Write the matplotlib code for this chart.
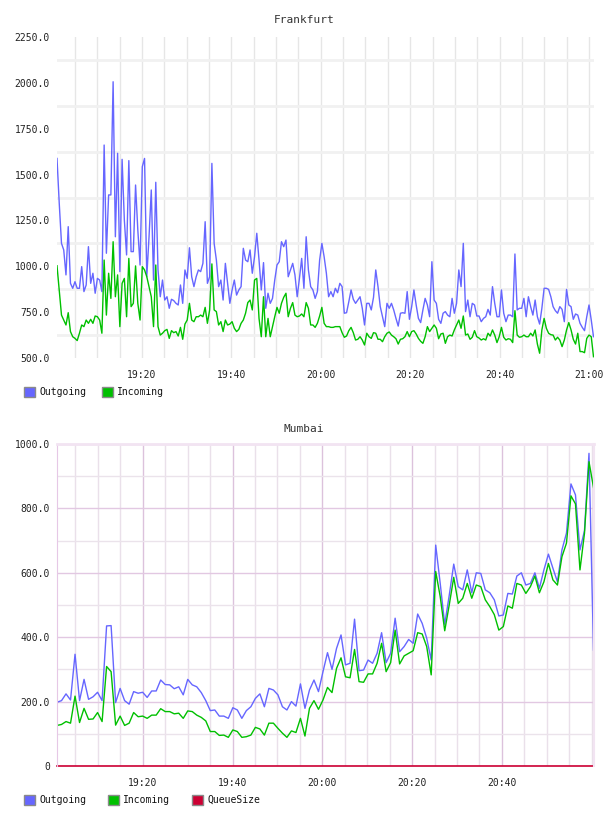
import numpy as np
import pandas as pd
import matplotlib
matplotlib.use('Agg')
import matplotlib.pyplot as plt
import matplotlib.dates as mdates
from matplotlib.patches import Rectangle

# ---- Frankfurt (30 s samples) ----
fra_times = pd.date_range('2024-01-01 19:01:00', '2024-01-01 21:01:00', periods=240)
fra_out = [1588, 1343, 1125, 1089, 953, 1216, 907, 880, 916, 880,
           880, 998, 862, 898, 1107, 907, 962, 853, 934, 925,
           862, 1661, 1071, 1389, 1389, 2006, 1161, 1616, 971, 1583,
           1252, 1062, 1576, 1080, 1080, 1443, 1198, 1007, 1543, 1588,
           943, 1161, 1416, 925, 1458, 980, 834, 925, 816, 834,
           771, 820, 813, 798, 789, 898, 798, 980, 934, 1101,
           943, 889, 943, 980, 971, 1016, 1243, 907, 943, 1561,
           1125, 1034, 889, 925, 816, 1016, 907, 798, 871, 925,
           843, 871, 889, 1098, 1034, 1025, 1089, 962, 1052, 1180,
           1034, 871, 1020, 771, 853, 798, 825, 925, 1007, 1025,
           1134, 1107, 1143, 943, 980, 1016, 953, 834, 934, 1043,
           880, 1161, 980, 889, 871, 825, 862, 1034, 1125, 1052,
           962, 834, 862, 834, 880, 856, 907, 889, 744, 747,
           807, 871, 820, 798, 816, 834, 771, 680, 798, 798,
           762, 831, 980, 889, 780, 725, 671, 798, 771, 798,
           762, 716, 674, 744, 747, 744, 862, 711, 780, 871,
           789, 716, 693, 762, 825, 789, 725, 1025, 816, 798,
           711, 689, 744, 753, 734, 725, 825, 744, 798, 980,
           889, 1125, 753, 816, 725, 798, 789, 729, 729, 698,
           716, 725, 765, 734, 889, 798, 725, 725, 871, 744,
           698, 734, 734, 725, 1067, 762, 771, 771, 825, 725,
           834, 780, 734, 816, 725, 685, 771, 880, 880, 874,
           834, 780, 758, 744, 780, 765, 698, 874, 789, 780,
           711, 740, 734, 689, 667, 649, 725, 789, 707, 616]
fra_in = [1003, 871, 734, 707, 680, 747, 644, 616, 607, 595,
          635, 680, 671, 707, 689, 711, 689, 729, 725, 707,
          635, 1034, 734, 962, 825, 1134, 834, 953, 671, 907,
          934, 725, 1043, 780, 798, 1002, 798, 707, 998, 980,
          943, 889, 834, 671, 1007, 671, 625, 635, 649, 656,
          607, 649, 638, 644, 620, 667, 602, 685, 707, 798,
          707, 698, 725, 725, 734, 725, 776, 689, 762, 1013,
          762, 753, 680, 698, 644, 707, 680, 685, 698, 662,
          644, 656, 689, 707, 744, 802, 816, 762, 925, 934,
          716, 616, 834, 616, 716, 616, 671, 725, 776, 744,
          798, 831, 853, 725, 771, 802, 734, 725, 729, 740,
          725, 802, 771, 680, 680, 667, 689, 729, 776, 689,
          671, 671, 667, 667, 671, 671, 671, 638, 613, 620,
          649, 667, 638, 598, 602, 616, 598, 571, 635, 616,
          607, 638, 635, 602, 602, 589, 616, 635, 642, 625,
          616, 605, 576, 602, 605, 616, 644, 616, 644, 649,
          631, 607, 591, 580, 616, 671, 644, 662, 680, 662,
          605, 631, 635, 580, 616, 625, 620, 653, 680, 707,
          662, 729, 625, 631, 602, 613, 649, 616, 609, 598,
          605, 598, 635, 620, 653, 625, 584, 616, 667, 613,
          598, 605, 602, 584, 758, 625, 613, 616, 625, 616,
          616, 635, 620, 653, 576, 526, 653, 716, 662, 635,
          627, 625, 598, 613, 598, 562, 598, 653, 693, 653,
          602, 576, 635, 535, 535, 529, 607, 625, 616, 507]

# ---- Mumbai (1 min samples) ----
mum_times = pd.date_range('2024-01-01 19:00:54', '2024-01-01 21:00:24', periods=120)
mum_out = [198, 203, 224, 205, 347, 203, 269, 207, 215, 229,
           203, 435, 436, 197, 241, 203, 192, 231, 226, 229,
           213, 233, 233, 267, 253, 252, 240, 246, 221, 269,
           252, 246, 228, 203, 172, 174, 155, 155, 148, 181,
           174, 148, 172, 184, 210, 224, 184, 241, 236, 221,
           184, 174, 200, 186, 255, 179, 236, 267, 231, 293,
           352, 300, 365, 407, 314, 319, 456, 296, 298, 329,
           319, 350, 414, 321, 350, 459, 355, 371, 393, 381,
           472, 443, 397, 329, 686, 567, 440, 530, 627, 557,
           547, 609, 538, 600, 598, 547, 538, 516, 466, 469,
           536, 534, 590, 600, 562, 567, 600, 552, 609, 658,
           614, 572, 671, 723, 876, 842, 671, 731, 971, 360]
mum_in = [126, 129, 138, 133, 217, 135, 179, 145, 146, 166,
          138, 309, 293, 127, 155, 126, 133, 166, 153, 155,
          148, 158, 158, 178, 169, 169, 162, 164, 148, 171,
          169, 158, 151, 140, 107, 107, 95, 96, 89, 112,
          107, 89, 91, 96, 120, 115, 96, 133, 133, 117,
          102, 89, 109, 104, 148, 93, 179, 203, 176, 205,
          244, 228, 303, 336, 277, 274, 362, 262, 260, 286,
          286, 319, 381, 293, 321, 422, 317, 342, 350, 358,
          414, 410, 371, 283, 604, 526, 420, 500, 586, 505,
          521, 567, 521, 562, 557, 516, 495, 470, 422, 433,
          497, 490, 567, 562, 536, 557, 590, 538, 572, 629,
          578, 562, 650, 692, 839, 814, 609, 723, 945, 865]
mum_queue = [0] * 120
mum_labels = pd.date_range('2024-01-01 19:20', '2024-01-01 20:40', freq='20min')

C_OUT = '#6666ff'
C_IN = '#00c000'
C_Q = '#cc0033'

plt.rcParams['font.family'] = 'DejaVu Sans Mono'
W, H = 608, 816
fig = plt.figure(figsize=(W / 100, H / 100), dpi=100)


def box(l, t, r, b):
    return [l / W, 1 - b / H, (r - l) / W, (b - t) / H]


def fmt(v, pos=None):
    return '0' if v == 0 else '%.1f' % v


def setup_time_axis(ax):
    ax.xaxis.set_major_locator(mdates.MinuteLocator(byminute=[0, 20, 40]))
    ax.xaxis.set_minor_locator(mdates.MinuteLocator(byminute=range(0, 60, 5)))
    ax.xaxis.set_major_formatter(mdates.DateFormatter('%H:%M'))
    ax.tick_params(which='both', length=0, labelsize=7, colors='#222222')
    ax.tick_params(axis='x', pad=9)
    ax.tick_params(axis='y', pad=5)
    ax.set_axisbelow(True)


def legend(y, items):
    for x, name, col in items:
        fig.patches.append(Rectangle((x / W, 1 - (y + 5) / H), 11 / W, 10 / H,
                                     transform=fig.transFigure, facecolor=col,
                                     edgecolor='#8a8a8a', lw=1))
        fig.text((x + 15) / W, 1 - y / H, name, fontsize=7, va='center',
                 ha='left', color='#111111')


# Frankfurt
ax1 = fig.add_axes(box(57, 37, 593.5, 358))
ax1.plot(fra_times, fra_out, color=C_OUT, lw=1.0)
ax1.plot(fra_times, fra_in, color=C_IN, lw=1.0)
ax1.set_xlim(fra_times[0], fra_times[-1])
ax1.set_ylim(500, 2250)
ax1.set_yticks(np.arange(500, 2251, 250))
ax1.set_yticks(np.arange(625, 2250, 250), minor=True)
ax1.yaxis.set_major_formatter(plt.FuncFormatter(fmt))
setup_time_axis(ax1)
ax1.yaxis.grid(True, which='minor', color='#f1f1f1', lw=2)
ax1.xaxis.grid(True, which='both', color='#e6e6e6', lw=1)
for s in ax1.spines.values():
    s.set_visible(False)
fig.text(304 / W, 1 - 20 / H, 'Frankfurt', ha='center', va='center',
         fontsize=8, color='#333333')
legend(392, [(24, 'Outgoing', C_OUT), (102, 'Incoming', C_IN)])

# Mumbai
ax2 = fig.add_axes(box(57, 444, 593.5, 766))
ax2.plot(mum_times, mum_out, color=C_OUT, lw=1.0)
ax2.plot(mum_times, mum_in, color=C_IN, lw=1.0)
ax2.plot(mum_times, mum_queue, color=C_Q, lw=1.2, clip_on=False)
ax2.set_xlim(mum_times[0], mum_times[-1])
ax2.set_ylim(0, 1000)
ax2.set_yticks(np.arange(0, 1001, 200))
ax2.set_yticks(np.arange(100, 1000, 200), minor=True)
ax2.yaxis.set_major_formatter(plt.FuncFormatter(fmt))
setup_time_axis(ax2)
ax2.set_xticks(mum_labels)
ax2.xaxis.set_major_formatter(mdates.DateFormatter('%H:%M'))
ax2.yaxis.grid(True, which='major', color='#e2c8e2', lw=1)
ax2.yaxis.grid(True, which='minor', color='#ebe3eb', lw=1)
ax2.xaxis.grid(True, which='major', color='#dcc2dc', lw=1)
ax2.xaxis.grid(True, which='minor', color='#eae0ea', lw=1)
ax2.spines['bottom'].set_visible(False)
ax2.spines['left'].set_color('#e6c8e6')
ax2.spines['top'].set_color('#f2e4f2')
ax2.spines['top'].set_linewidth(2)
ax2.spines['right'].set_color('#f2e4f2')
ax2.spines['right'].set_linewidth(1.5)
fig.text(304 / W, 1 - 429 / H, 'Mumbai', ha='center', va='center',
         fontsize=8, color='#333333')
legend(800, [(24, 'Outgoing', C_OUT), (108, 'Incoming', C_IN),
             (192, 'QueueSize', C_Q)])

fig.savefig('out.png', dpi=100, facecolor='white')
